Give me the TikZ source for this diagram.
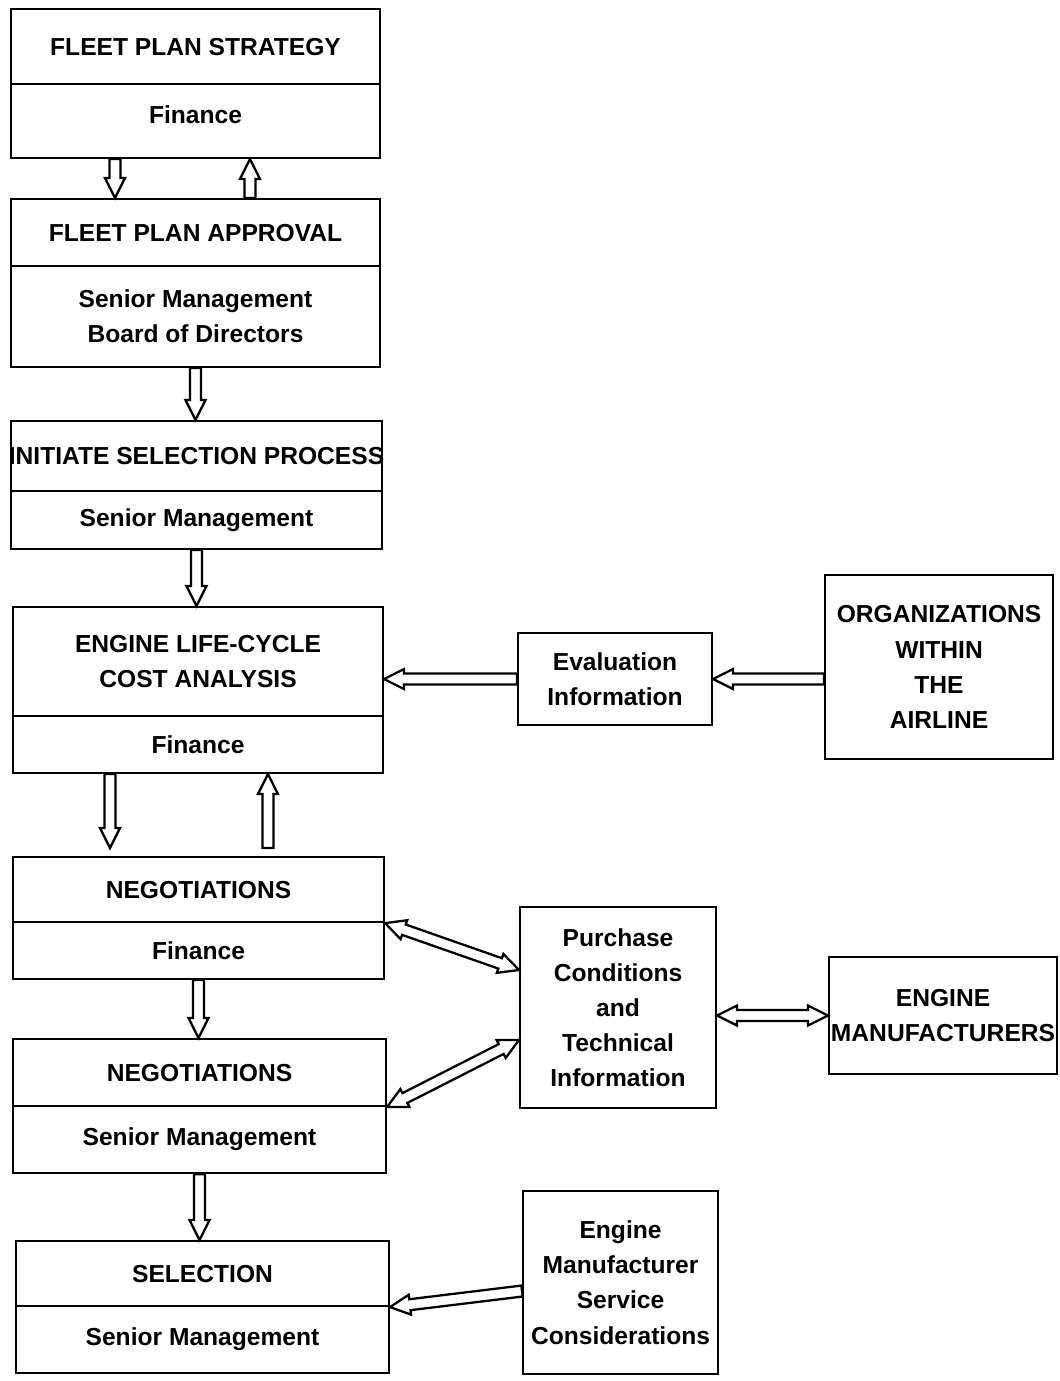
\documentclass[tikz,border=0pt]{standalone}
\usepackage{fontspec}
\setmainfont{Liberation Sans}
\usetikzlibrary{calc}

% hollow block arrow, from #1 to the tip #2
\newcommand{\blockarrow}[2]{%
  \coordinate (ba-n) at ($(#2)!0.4cm!(#1)$);
  \draw[arrowline] ($(#1)!0.11cm!90:(#2)$) -- ($(ba-n)!0.11cm!90:(#2)$)
    -- ($(ba-n)!0.2cm!90:(#2)$) -- (#2) -- ($(ba-n)!0.2cm!-90:(#2)$)
    -- ($(ba-n)!0.11cm!-90:(#2)$) -- ($(#1)!0.11cm!-90:(#2)$) -- cycle;}
% the same with a head at both ends
\newcommand{\blockarrowboth}[2]{%
  \coordinate (ba-n) at ($(#2)!0.4cm!(#1)$);
  \coordinate (ba-m) at ($(#1)!0.4cm!(#2)$);
  \draw[arrowline] (#1) -- ($(ba-m)!0.2cm!90:(#2)$) -- ($(ba-m)!0.11cm!90:(#2)$)
    -- ($(ba-n)!0.11cm!90:(#2)$) -- ($(ba-n)!0.2cm!90:(#2)$) -- (#2)
    -- ($(ba-n)!0.2cm!-90:(#2)$) -- ($(ba-n)!0.11cm!-90:(#2)$)
    -- ($(ba-m)!0.11cm!-90:(#2)$) -- ($(ba-m)!0.2cm!-90:(#2)$) -- cycle;}

\tikzset{
  part/.style={draw, line width=1.2pt, anchor=north west, inner sep=0pt,
    align=center, font=\fontsize{14}{20}\selectfont\bfseries},
  side/.style={part},
  arrowline/.style={line width=1.3pt, line join=miter, fill=white}
}

\begin{document}
\begin{tikzpicture}[x=0.02cm, y=-0.02cm]
  \useasboundingbox (0,0) rectangle (1059,1381);

  % left column: title over department
  \node[part, minimum width=7.38cm, minimum height=1.5cm]  (fpsT) at (10,8) {FLEET PLAN STRATEGY};
  \node[part, minimum width=7.38cm, minimum height=1.48cm] (fpsB) at (10,83) {\raisebox{0.24cm}{Finance}};

  \node[part, minimum width=7.38cm, minimum height=1.34cm] (fpaT) at (10,198) {FLEET PLAN APPROVAL};
  \node[part, minimum width=7.38cm, minimum height=2.02cm] (fpaB) at (10,265) {Senior Management\\Board of Directors};

  \node[part, minimum width=7.42cm, minimum height=1.4cm]  (ispT) at (10,420) {\makebox[0pt]{INITIATE SELECTION PROCESS}};
  \node[part, minimum width=7.42cm, minimum height=1.16cm] (ispB) at (10,490) {Senior Management};

  \node[part, minimum width=7.4cm, minimum height=2.18cm]  (lccT) at (12,606) {ENGINE LIFE-CYCLE\\COST ANALYSIS};
  \node[part, minimum width=7.4cm, minimum height=1.14cm]  (lccB) at (12,715) {Finance};

  \node[part, minimum width=7.42cm, minimum height=1.3cm]  (nfT) at (12,856) {NEGOTIATIONS};
  \node[part, minimum width=7.42cm, minimum height=1.14cm] (nfB) at (12,921) {Finance};

  \node[part, minimum width=7.46cm, minimum height=1.34cm] (nsT) at (12,1038) {NEGOTIATIONS};
  \node[part, minimum width=7.46cm, minimum height=1.34cm] (nsB) at (12,1105) {Senior Management};

  \node[part, minimum width=7.46cm, minimum height=1.3cm]  (selT) at (15,1240) {SELECTION};
  \node[part, minimum width=7.46cm, minimum height=1.34cm] (selB) at (15,1305) {Senior Management};

  % right side boxes
  \node[side, minimum width=3.88cm, minimum height=1.84cm] (eval) at (517,632) {Evaluation\\Information};
  \node[side, minimum width=4.56cm, minimum height=3.68cm] (org) at (824,574) {ORGANIZATIONS\\WITHIN\\THE\\AIRLINE};
  \node[side, minimum width=3.92cm, minimum height=4.02cm] (pc) at (519,906) {Purchase\\Conditions\\and\\Technical\\Information};
  \node[side, minimum width=4.56cm, minimum height=2.34cm] (em) at (828,956) {ENGINE\\\makebox[0pt]{MANUFACTURERS}};
  \node[side, minimum width=3.9cm, minimum height=3.66cm]  (svc) at (522,1190) {Engine\\Manufacturer\\Service\\Considerations};

  % connector ends
  \coordinate (d1s) at ([xshift=2.1cm]fpsB.south west);
  \coordinate (d1e) at ([xshift=2.1cm]fpaT.north west);
  \coordinate (u1s) at ([xshift=4.8cm]fpaT.north west);
  \coordinate (u1e) at ([xshift=4.8cm]fpsB.south west);
  \coordinate (d4s) at ([xshift=1.96cm]lccB.south west);
  \coordinate (d4e) at ([xshift=1.96cm, yshift=0.16cm]nfT.north west);
  \coordinate (u4s) at ([xshift=5.12cm, yshift=0.16cm]nfT.north west);
  \coordinate (u4e) at ([xshift=5.12cm]lccB.south west);
  \coordinate (pc1) at ([yshift=-1.28cm]pc.north west);
  \coordinate (pc2) at ([yshift=-2.68cm]pc.north west);
  \coordinate (svcw) at ([yshift=-0.17cm]svc.west);

  % vertical flow
  \blockarrow{d1s}{d1e}
  \blockarrow{u1s}{u1e}
  \blockarrow{fpaB.south}{fpaB.south |- ispT.north}
  \blockarrow{ispB.south}{ispB.south |- lccT.north}
  \blockarrow{d4s}{d4e}
  \blockarrow{u4s}{u4e}
  \blockarrow{nfB.south}{nfB.south |- nsT.north}
  \blockarrow{nsB.south}{nsB.south |- selT.north}

  % information from the right
  \blockarrow{eval.west}{eval.west -| lccT.east}
  \blockarrow{eval.east -| org.west}{eval.east}
  \blockarrowboth{nfT.south east}{pc1}
  \blockarrowboth{nsT.south east}{pc2}
  \blockarrowboth{em.west -| pc.east}{em.west}
  \blockarrow{svcw}{selT.south east}
\end{tikzpicture}
\end{document}
